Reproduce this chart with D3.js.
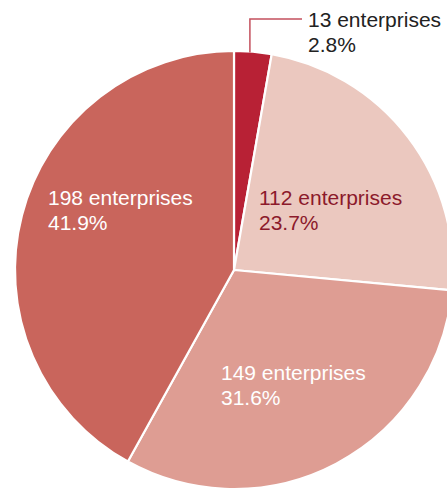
<!DOCTYPE html>
<html><head><meta charset="utf-8">
<script src="https://cdn.jsdelivr.net/npm/d3@7"></script>
<style>html,body{margin:0;padding:0;background:#fff;overflow:hidden}</style>
</head><body>
<svg id="c" width="447" height="491"></svg>
<script>
const counts = [13, 112, 149, 198];
const percents = ["2.8%", "23.7%", "31.6%", "41.9%"];
const colors = ["#b82135", "#ebc8bf", "#de9d93", "#c9655c"];
const textColors = ["#222222", "#8c1a2b", "#ffffff", "#ffffff"];

const svg = d3.select("#c");
const cx = 234, cy = 270, r = 219;
const g = svg.append("g").attr("transform", `translate(${cx},${cy})`);
const pie = d3.pie().sort(null).value(d => d);
const arcs = pie(counts);
const arc = d3.arc().innerRadius(0).outerRadius(r);

g.selectAll("path").data(arcs).join("path")
  .attr("d", arc)
  .attr("fill", (d, i) => colors[i])
  .attr("stroke", "#fff")
  .attr("stroke-width", 2.2)
  .attr("stroke-linejoin", "round");

// label anchor positions (absolute)
const labelPos = [[308, 27], [259, 205], [221, 380], [48, 205]];

// leader line for small slice
const a0 = arcs[0];
const ang = a0.startAngle + (a0.endAngle - a0.startAngle) * 0.42;
const lx = cx + r * Math.sin(ang);
const ly = cy - r * Math.cos(ang) + 1;
svg.append("path")
  .attr("d", `M${lx},${ly} L${lx},19 L302,19`)
  .attr("fill", "none")
  .attr("stroke", "#c4505d")
  .attr("stroke-width", 1.5);

counts.forEach((c, i) => {
  const t = svg.append("text")
    .attr("x", labelPos[i][0]).attr("y", labelPos[i][1])
    .attr("fill", textColors[i])
    .style("font-family", "'Liberation Sans', Arial, Helvetica, sans-serif")
    .style("font-size", "21px");
  t.append("tspan").attr("x", labelPos[i][0]).text(c + " enterprises");
  t.append("tspan").attr("x", labelPos[i][0]).attr("dy", 25).text(percents[i]);
});
</script>
</body></html>
